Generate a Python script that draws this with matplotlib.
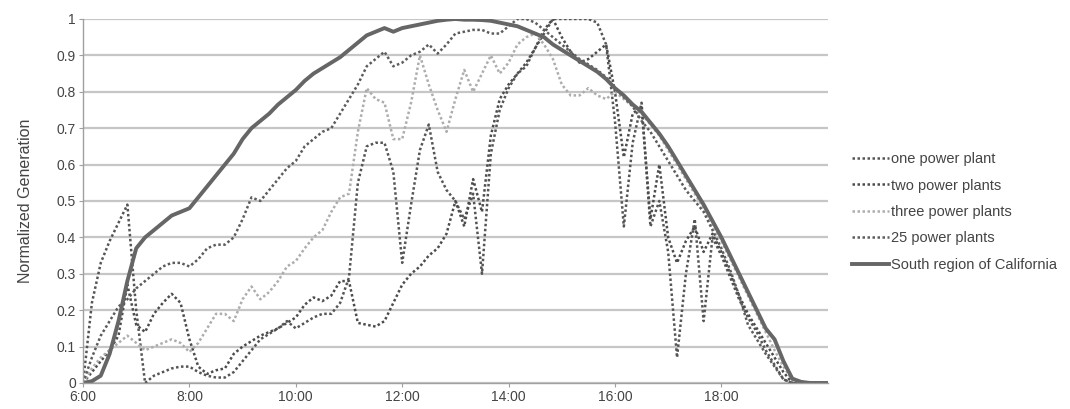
import matplotlib
matplotlib.use("Agg")
import matplotlib.pyplot as plt
import numpy as np

# samples every 10 minutes from 6:00 to 20:00
hours = 6 + np.arange(85) / 6.0

one_plant = [
    0.0, 0.22, 0.33, 0.39, 0.44, 0.49,
    0.20, 0.0, 0.02, 0.03, 0.04, 0.045,
    0.045, 0.03, 0.02, 0.015, 0.015, 0.03,
    0.06, 0.09, 0.12, 0.135, 0.15, 0.17,
    0.15, 0.165, 0.18, 0.19, 0.19, 0.22,
    0.29, 0.55, 0.65, 0.66, 0.66, 0.58,
    0.33, 0.49, 0.64, 0.71, 0.58, 0.53,
    0.50, 0.45, 0.52, 0.30, 0.63, 0.75,
    0.81, 0.85, 0.87, 0.92, 0.96, 1.0,
    1.0, 1.0, 1.0, 1.0, 0.99, 0.93,
    0.72, 0.43, 0.66, 0.77, 0.43, 0.50,
    0.36, 0.07, 0.30, 0.45, 0.17, 0.40,
    0.35, 0.29, 0.23, 0.18, 0.14, 0.09,
    0.05, 0.01, 0.0, 0.0, 0.0, 0.0,
    0.0,
]

two_plants = [
    0.0, 0.03, 0.06, 0.09, 0.13, 0.27,
    0.16, 0.14, 0.19, 0.22, 0.245, 0.22,
    0.12, 0.045, 0.025, 0.035, 0.04, 0.08,
    0.10, 0.115, 0.13, 0.14, 0.15, 0.165,
    0.18, 0.215, 0.235, 0.225, 0.24, 0.28,
    0.28, 0.165, 0.16, 0.155, 0.17, 0.22,
    0.27, 0.30, 0.32, 0.35, 0.37, 0.41,
    0.50, 0.43, 0.56, 0.47, 0.68, 0.78,
    0.82, 0.85, 0.88, 0.92, 0.97, 1.0,
    0.95, 0.91, 0.88, 0.89, 0.91, 0.93,
    0.80, 0.62, 0.74, 0.76, 0.45, 0.60,
    0.40, 0.33, 0.39, 0.43, 0.36, 0.41,
    0.36, 0.30, 0.24, 0.19, 0.15, 0.11,
    0.07, 0.03, 0.0, 0.0, 0.0, 0.0,
    0.0,
]

three_plants = [
    0.0, 0.04, 0.07, 0.09, 0.11, 0.13,
    0.11, 0.09, 0.10, 0.11, 0.12, 0.11,
    0.085, 0.11, 0.15, 0.19, 0.19, 0.17,
    0.23, 0.265, 0.23, 0.25, 0.28, 0.32,
    0.335, 0.37, 0.40, 0.42, 0.47, 0.51,
    0.52, 0.69, 0.81, 0.78, 0.77, 0.67,
    0.67, 0.77, 0.90, 0.82, 0.75, 0.69,
    0.78, 0.86, 0.80, 0.85, 0.90, 0.85,
    0.88, 0.93, 0.95, 0.96, 0.93, 0.89,
    0.82, 0.79, 0.79, 0.81, 0.79, 0.78,
    0.80, 0.78, 0.76, 0.74, 0.71, 0.68,
    0.64, 0.60, 0.56, 0.52, 0.48, 0.43,
    0.39, 0.34, 0.29, 0.24, 0.19, 0.14,
    0.09, 0.045, 0.008, 0.0, 0.0, 0.0,
    0.0,
]

plants_25 = [
    0.0, 0.07, 0.13, 0.17, 0.21, 0.23,
    0.26, 0.28, 0.30, 0.32, 0.33, 0.33,
    0.32, 0.34, 0.37, 0.38, 0.38, 0.40,
    0.45, 0.51, 0.50, 0.53, 0.56, 0.59,
    0.61, 0.65, 0.67, 0.69, 0.70, 0.74,
    0.78, 0.82, 0.87, 0.89, 0.91, 0.87,
    0.88, 0.90, 0.91, 0.93, 0.905, 0.93,
    0.96, 0.965, 0.97, 0.97, 0.96, 0.96,
    0.98, 1.0, 1.0, 0.99, 0.97, 0.95,
    0.93, 0.91, 0.89, 0.875, 0.86, 0.84,
    0.81, 0.785, 0.76, 0.72, 0.69, 0.65,
    0.61, 0.57, 0.53, 0.50, 0.47, 0.42,
    0.37, 0.31, 0.24, 0.16, 0.12, 0.08,
    0.045, 0.01, 0.0, 0.0, 0.0, 0.0,
    0.0,
]

south_region = [
    0.0, 0.005, 0.02, 0.08, 0.17, 0.28,
    0.37, 0.40, 0.42, 0.44, 0.46, 0.47,
    0.48, 0.51, 0.54, 0.57, 0.60, 0.63,
    0.67, 0.70, 0.72, 0.74, 0.765, 0.785,
    0.805, 0.83, 0.85, 0.865, 0.88, 0.895,
    0.915, 0.935, 0.955, 0.965, 0.975, 0.965,
    0.975, 0.98, 0.985, 0.99, 0.995, 0.998,
    1.0, 0.998, 0.998, 0.997, 0.995, 0.99,
    0.985, 0.98, 0.97, 0.96, 0.95, 0.93,
    0.915, 0.90, 0.885, 0.87, 0.855, 0.835,
    0.81, 0.79, 0.765, 0.745, 0.715, 0.685,
    0.65, 0.61, 0.57, 0.53, 0.49, 0.445,
    0.40, 0.35, 0.30, 0.25, 0.20, 0.15,
    0.12, 0.06, 0.012, 0.003, 0.0, 0.0,
    0.0,
]

x_ticks = [6, 8, 10, 12, 14, 16, 18]
x_tick_labels = ["6:00", "8:00", "10:00", "12:00", "14:00", "16:00", "18:00"]
y_ticks = [0, 0.1, 0.2, 0.3, 0.4, 0.5, 0.6, 0.7, 0.8, 0.9, 1.0]
y_tick_labels = ["0", "0.1", "0.2", "0.3", "0.4", "0.5", "0.6", "0.7", "0.8", "0.9", "1"]

SERIES = [
    ("one power plant", one_plant, "#555555", (0, (1, 1)), 1.8),
    ("two power plants", two_plants, "#4c4c4c", (0, (1, 1)), 1.8),
    ("three power plants", three_plants, "#adadad", (0, (1, 1)), 1.8),
    ("25 power plants", plants_25, "#5c5c5c", (0, (1, 1)), 1.8),
    ("South region of California", south_region, "#666666", "-", 2.8),
]

TEXT_COLOR = "#444444"


def main():
    plt.rcParams["font.family"] = ["Liberation Sans", "DejaVu Sans"]
    fig = plt.figure(figsize=(10.7, 4.09), dpi=100)
    ax = fig.add_axes([0.0776, 0.0636, 0.696, 0.890])

    for label, values, color, ls, lw in SERIES:
        ax.plot(hours, values, color=color, linestyle=ls, linewidth=lw, label=label)

    ax.set_xlim(6, 20)
    ax.set_ylim(0, 1)
    ax.set_xticks(x_ticks)
    ax.set_xticklabels(x_tick_labels)
    ax.set_yticks(y_ticks)
    ax.set_yticklabels(y_tick_labels)
    ax.tick_params(labelsize=10, colors=TEXT_COLOR, length=3, width=0.8, color="#a0a0a0", pad=2)
    ax.set_ylabel("Normalized Generation", fontsize=11.5, color=TEXT_COLOR, labelpad=17)

    ax.grid(True, axis="y", color="#c6c6c6", linewidth=1.6)
    ax.set_axisbelow(True)
    for side in ("top", "right"):
        ax.spines[side].set_visible(False)
    for side in ("left", "bottom"):
        ax.spines[side].set_color("#a0a0a0")
        ax.spines[side].set_linewidth(1.0)

    leg = ax.legend(
        loc="center left",
        bbox_to_anchor=(1.015, 0.47),
        frameon=False,
        fontsize=10.5,
        handlelength=2.5,
        handletextpad=0.15,
        labelspacing=0.85,
    )
    for text in leg.get_texts():
        text.set_color(TEXT_COLOR)

    fig.savefig("out.png", dpi=100)
    plt.close(fig)


if __name__ == "__main__":
    main()
